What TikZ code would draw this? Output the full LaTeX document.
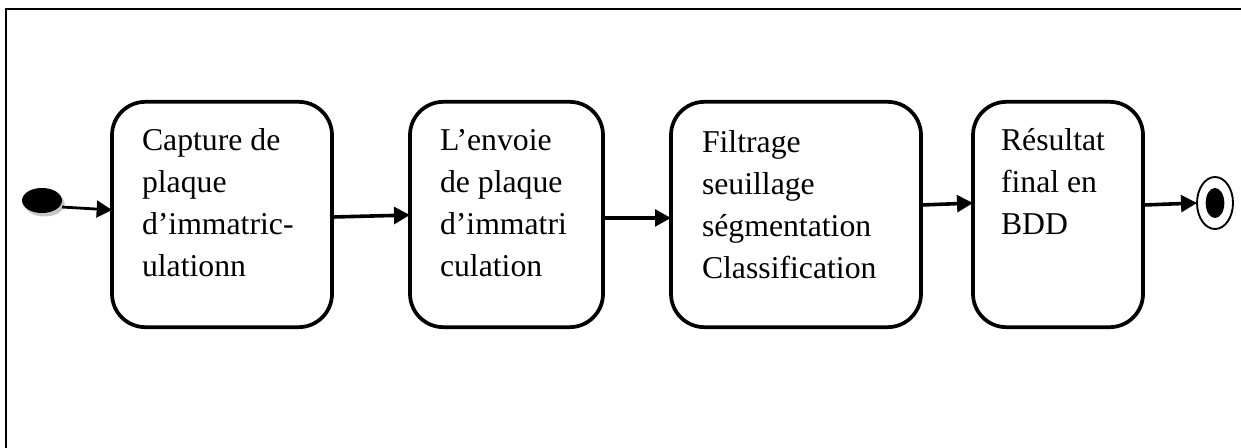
\documentclass[tikz,border=0pt]{standalone}
\usepackage{fontspec}
\setmainfont{Liberation Serif}
\usetikzlibrary{shapes.geometric,arrows.meta,calc,shadows}
\begin{document}
\begin{tikzpicture}[x=0.75pt,y=-0.75pt,
  stepbox/.style={draw,line width=2.8pt,rounded corners=25pt,rectangle,
    minimum height=169pt,inner sep=0pt,outer sep=0pt},
  lbl/.style={anchor=north west,align=left,inner sep=0pt,outer sep=0pt,
    font=\fontsize{23.8}{31.5}\selectfont},
  arr/.style={line width=2.7pt,-{Triangle[length=12pt,width=12.5pt]}},
  startdot/.style={ellipse,fill=black,minimum width=30pt,minimum height=18.75pt,
    inner sep=0pt,outer sep=0pt,
    drop shadow={shadow xshift=2pt,shadow yshift=-2.6pt,fill=gray!45,opacity=1}},
  endring/.style={ellipse,draw,line width=1.4pt,minimum width=27pt,minimum height=39pt,
    inner sep=0pt,outer sep=0pt},
  enddot/.style={ellipse,fill=black,minimum width=14pt,minimum height=22.5pt,
    inner sep=0pt,outer sep=0pt}]
\useasboundingbox (0,0) rectangle (1241,448);
% frame
\draw[line width=1.9pt] (6,448) -- (6,9) -- (1241,9);
% nodes
\node[startdot] (s) at (42,200.5) {};
\node[stepbox,minimum width=165pt] (b1) at (222,214.5) {};
\node[stepbox,minimum width=144.75pt] (b2) at (506.5,214.5) {};
\node[stepbox,minimum width=187.5pt] (b3) at (796,214.5) {};
\node[stepbox,minimum width=127.5pt] (b4) at (1058,214.5) {};
\node[endring] (e) at (1215,203) {};
\node[enddot] (ei) at (e.center) {};
% labels
\node[lbl] (t1) at ($(b1.north west)+(30,19.6)$) {\strut Capture de\\plaque\\d’immatric-\\ulationn};
\node[lbl] (t2) at ($(b2.north west)+(30,19.6)$) {\strut L’envoie\\de plaque\\d’immatri\\culation};
\node[lbl] (t3) at ($(b3.north west)+(31,21.6)$) {\strut Filtrage\\seuillage\\ségmentation\\Classification};
\node[lbl] (t4) at ($(b4.north west)+(28,19.6)$) {\strut Résultat\\final en\\BDD};
% connectors
\draw[line width=2.1pt,-{Triangle[length=11.5pt,width=12.5pt]}] ([yshift=-4.9pt]s.east) -- ([yshift=3.4pt]b1.west);
\draw[arr] ([yshift=-1.9pt]b1.east) -- ([yshift=-0.4pt]b2.west);
\draw[arr] ([yshift=-2.6pt]b2.east) -- ([yshift=-2.6pt]b3.west);
\draw[arr] ([yshift=7.1pt]b3.east) -- ([yshift=8.6pt]b4.west);
\draw[arr] ([yshift=7.1pt]b4.east) -- (e.west);
\end{tikzpicture}
\end{document}
